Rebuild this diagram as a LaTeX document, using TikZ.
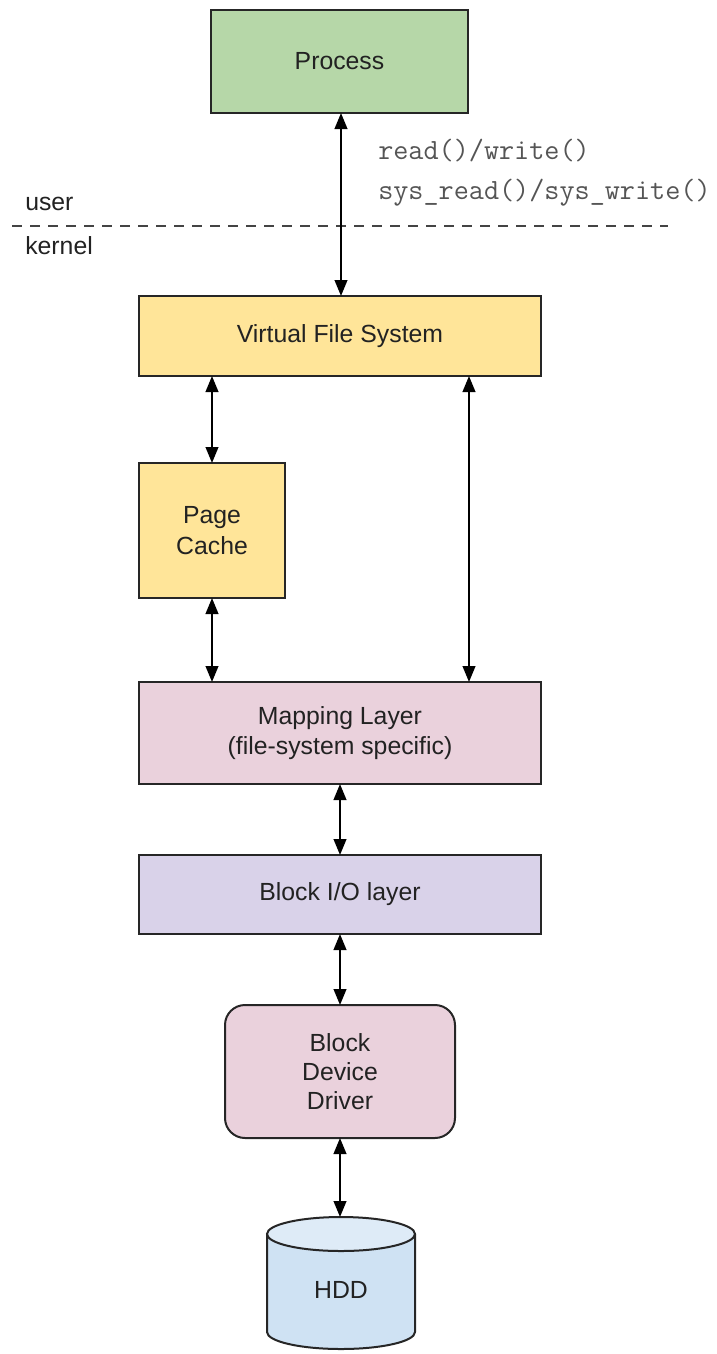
\documentclass[tikz,border=0pt]{standalone}
\usepackage{fontspec}
\setmainfont{Liberation Sans}
\usetikzlibrary{arrows.meta}
\definecolor{procgreen}{HTML}{B6D7A8}
\definecolor{vfsyellow}{HTML}{FFE599}
\definecolor{mappink}{HTML}{EAD1DC}
\definecolor{blockpurple}{HTML}{D9D2E9}
\definecolor{hddblue}{HTML}{CFE2F3}
\definecolor{hddtop}{HTML}{DEEBF7}
\definecolor{txt}{HTML}{222222}
\definecolor{monogray}{HTML}{555555}
\definecolor{dashgray}{HTML}{444444}
\tikzset{
  box/.style={draw=black!85, line width=1.5pt, inner sep=0pt, outer sep=0pt, align=center,
    font=\fontsize{18.6pt}{22pt}\selectfont, text=txt},
  conn/.style={line width=1.5pt, {Triangle[length=12pt,width=9.5pt]}-{Triangle[length=12pt,width=9.5pt]}},
  monotext/.style={anchor=west, font=\ttfamily\fontsize{22pt}{24pt}\selectfont, text=monogray, inner sep=0pt},
  sidelabel/.style={anchor=west, font=\fontsize{18.6pt}{22pt}\selectfont, text=txt, inner sep=0pt}
}
\begin{document}
\begin{tikzpicture}[x=0.75pt, y=-0.75pt]
\useasboundingbox (0,0) rectangle (717,1354);
% boxes
\node[box, fill=procgreen, minimum width=192.75pt, minimum height=77.25pt] (proc) at (339.5,61.5) {Process};
\node[box, fill=vfsyellow, minimum width=301.5pt, minimum height=60pt] (vfs) at (340,336) {Virtual File System};
\node[box, fill=vfsyellow, minimum width=109.5pt, minimum height=101.25pt] (pc) at (212,530.5) {Page\\[1pt]Cache};
\node[box, fill=mappink, minimum width=301.5pt, minimum height=76.5pt] (map) at (340,733) {Mapping Layer\\[1pt](file-system specific)};
\node[box, fill=blockpurple, minimum width=301.5pt, minimum height=59.25pt] (bio) at (340,894.5) {Block I/O layer};
\node[box, fill=mappink, rounded corners=15pt, minimum width=172.5pt, minimum height=99.75pt] (bdd) at (340,1071.5) {Block\\Device\\Driver};
% HDD cylinder
\fill[hddblue] (267,1234) -- (267,1332) arc[start angle=180, end angle=0, x radius=74, y radius=17] -- (415,1234) -- cycle;
\draw[line width=1.5pt, black!85] (267,1234) -- (267,1332) arc[start angle=180, end angle=0, x radius=74, y radius=17] -- (415,1234);
\draw[line width=1.5pt, black!85, fill=hddtop] (341,1234) ellipse[x radius=74, y radius=17];
\coordinate (hddtopc) at (340,1217);
\node[font=\fontsize{18.6pt}{22pt}\selectfont, text=txt] (hdd) at (341,1290) {HDD};
% user/kernel divider
\node[sidelabel] (user) at (25,204) {user};
\node[sidelabel] (kernel) at (25,246) {kernel};
\coordinate (dl) at (12,226);
\coordinate (dr) at (668,226);
\draw[dashgray, line width=1.8pt, dash pattern=on 7.5pt off 6pt] (dl) -- (dr);
% syscall labels
\node[monotext] (rw) at (378,151) {read()/write()};
\node[monotext] (srw) at (378,193) {sys\_read()/sys\_write()};
% connectors
\coordinate (cx) at (341,0);
\coordinate (rx) at (469,0);
\draw[conn] (proc.south -| cx) -- (vfs.north -| cx);
\draw[conn] (vfs.south -| pc.north) -- (pc.north);
\draw[conn] (vfs.south -| rx) -- (map.north -| rx);
\draw[conn] (pc.south) -- (map.north -| pc.south);
\draw[conn] (map.south) -- (bio.north);
\draw[conn] (bio.south) -- (bdd.north);
\draw[conn] (bdd.south) -- (bdd.south |- hddtopc);
\end{tikzpicture}
\end{document}
